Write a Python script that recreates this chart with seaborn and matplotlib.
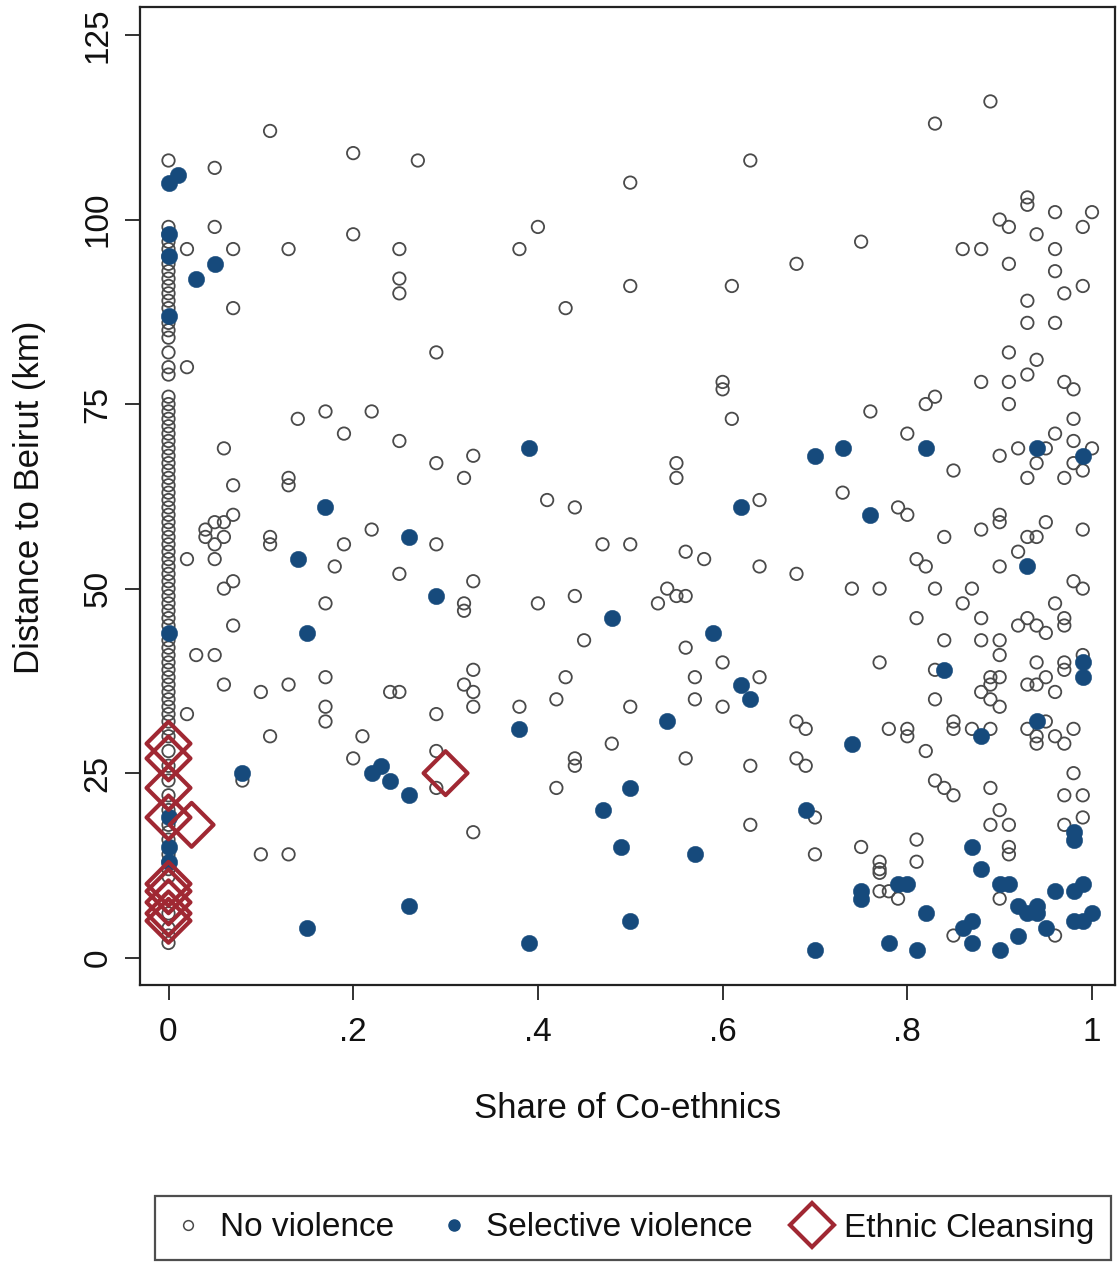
import numpy as np
import pandas as pd
import matplotlib
matplotlib.use("Agg")
import matplotlib.pyplot as plt
from matplotlib.lines import Line2D
import seaborn as sns

# ---------------- data ----------------
# x = share of co-ethnics, y = distance to Beirut (km)

# No violence: column at x = 0
nv_col_y = [108, 99, 98, 97, 96, 95, 94, 93, 92, 91, 90, 89, 88, 86, 85, 84, 82, 80, 79,
            76, 75, 74, 73, 72, 71, 70, 69, 68, 67, 66, 65, 64, 63, 62, 61, 60, 59, 58,
            57, 56, 55, 54, 53, 52, 51, 50, 49, 48, 47, 46, 45, 43, 42, 41, 40, 39, 38,
            37, 36, 35, 34, 33, 32, 31, 30, 28, 26, 25, 24, 22, 21, 20, 18, 17, 16, 14,
            13, 12, 11, 8, 6, 4, 3, 2]

# No violence: remaining villages
nv_x = [0.05, 0.11, 0.20, 0.27, 0.05, 0.02, 0.07, 0.13, 0.20, 0.25, 0.25, 0.25, 0.07, 0.29, 0.02,
        0.14, 0.17, 0.22, 0.19, 0.25, 0.06, 0.29, 0.33, 0.32, 0.07, 0.13, 0.13, 0.07, 0.05, 0.06,
        0.04, 0.04, 0.06, 0.05, 0.11, 0.11, 0.22, 0.19, 0.29, 0.02, 0.05, 0.18, 0.25, 0.07, 0.06,
        0.33, 0.32, 0.32, 0.17, 0.07, 0.03, 0.05, 0.06, 0.10, 0.13, 0.17, 0.17, 0.17, 0.24, 0.25,
        0.29, 0.33, 0.32, 0.33, 0.33, 0.02, 0.11, 0.21, 0.20, 0.29, 0.29, 0.08, 0.33, 0.10, 0.13,
        0.63, 0.50, 0.40, 0.38, 0.50, 0.61, 0.43, 0.60, 0.60, 0.61, 0.55, 0.55, 0.41, 0.44, 0.64,
        0.47, 0.50, 0.56, 0.58, 0.64, 0.40, 0.44, 0.54, 0.55, 0.56, 0.53, 0.45, 0.56, 0.60, 0.43,
        0.42, 0.38, 0.50, 0.57, 0.57, 0.60, 0.64, 0.48, 0.44, 0.44, 0.56, 0.63, 0.42, 0.63,
        0.89, 0.83, 0.75, 0.68, 0.93, 0.93, 0.96, 1.00, 0.90, 0.91, 0.94, 0.99, 0.86, 0.88, 0.96,
        0.91, 0.96, 0.97, 0.99, 0.93, 0.93, 0.96,
        0.91, 0.94, 0.93, 0.88, 0.91, 0.97, 0.98, 0.91, 0.82, 0.83, 0.76, 0.98, 0.96, 0.80, 0.98,
        0.90, 0.92, 0.95, 0.94, 1.00, 0.98, 0.99, 0.93, 0.97, 0.85, 0.73, 0.79, 0.80, 0.90, 0.90,
        0.95, 0.99, 0.88, 0.84, 0.93, 0.94, 0.92, 0.81, 0.82, 0.90, 0.68, 0.98, 0.99, 0.74, 0.77,
        0.83, 0.87, 0.86, 0.96, 0.97, 0.97, 0.81, 0.88, 0.93, 0.92, 0.94, 0.95, 0.84, 0.88, 0.90,
        0.77, 0.83, 0.99, 0.94, 0.97, 0.97, 0.90, 0.89, 0.90, 0.89, 0.88, 0.89, 0.90, 0.83, 0.93,
        0.94, 0.95, 0.96, 0.68, 0.69, 0.68, 0.69, 0.78, 0.80, 0.80, 0.82, 0.85, 0.85, 0.87, 0.89,
        0.93, 0.95, 0.94, 0.94, 0.96, 0.97, 0.98, 0.98, 0.83, 0.84, 0.85, 0.89, 0.97, 0.99, 0.70,
        0.90, 0.89, 0.91, 0.97, 0.99, 0.70, 0.75, 0.81, 0.81, 0.77, 0.77, 0.77, 0.91, 0.91, 0.77,
        0.78, 0.79, 0.90, 0.85, 0.96]
nv_y = [107, 112, 109, 108, 99, 96, 96, 96, 98, 96, 92, 90, 88, 82, 80,
        73, 74, 74, 71, 70, 69, 67, 68, 65, 64, 65, 64, 60, 59, 59,
        58, 57, 57, 56, 57, 56, 58, 56, 56, 54, 54, 53, 52, 51, 50,
        51, 48, 47, 48, 45, 41, 41, 37, 36, 37, 38, 34, 32, 36, 36,
        33, 39, 37, 36, 34, 33, 30, 30, 27, 28, 23, 24, 17, 14, 14,
        108, 105, 99, 96, 91, 91, 88, 78, 77, 73, 67, 65, 62, 61, 62,
        56, 56, 55, 54, 53, 48, 49, 50, 49, 49, 48, 43, 42, 40, 38,
        35, 34, 34, 38, 35, 34, 38, 29, 27, 26, 27, 26, 23, 18,
        116, 113, 97, 94, 103, 102, 101, 101, 100, 99, 98, 99, 96, 96, 96,
        94, 93, 90, 91, 89, 86, 86,
        82, 81, 79, 78, 78, 78, 77, 75, 75, 76, 74, 73, 71, 71, 70,
        68, 69, 69, 67, 69, 67, 66, 65, 65, 66, 63, 61, 60, 60, 59,
        59, 58, 58, 57, 57, 57, 55, 54, 53, 53, 52, 51, 50, 50, 50,
        50, 50, 48, 48, 46, 45, 46, 46, 46, 45, 45, 44, 43, 43, 43,
        40, 39, 41, 40, 40, 39, 41, 38, 38, 37, 36, 35, 34, 35, 37,
        37, 38, 36, 32, 31, 27, 26, 31, 31, 30, 28, 32, 31, 31, 31,
        31, 32, 30, 29, 30, 29, 31, 25, 24, 23, 22, 23, 22, 22, 19,
        20, 18, 18, 18, 19, 14, 15, 16, 13, 13, 12, 11.5, 15, 14, 9,
        9, 8, 8, 3, 3]

# Selective violence
sv_x = [0.00, 0.01, 0.00, 0.00, 0.05, 0.03, 0.00, 0.00, 0.00, 0.00, 0.00,
        0.17, 0.14, 0.26, 0.29, 0.15, 0.08, 0.22, 0.23, 0.24, 0.26, 0.26, 0.15,
        0.39, 0.62, 0.48, 0.59, 0.62, 0.63, 0.38, 0.54, 0.50, 0.47, 0.49, 0.57, 0.50, 0.39,
        0.70, 0.73, 0.82, 0.94, 0.99, 0.76, 0.93, 0.84, 0.99, 0.99, 0.74, 0.88, 0.94, 0.69,
        0.98, 0.98, 0.87, 0.88, 0.75, 0.75, 0.79, 0.80, 0.82, 0.78, 0.81, 0.70, 0.86, 0.87,
        0.87, 0.90, 0.91, 0.90, 0.92, 0.93, 0.94, 0.94, 0.95, 0.92, 0.96, 0.98, 0.99, 0.98,
        0.99, 1.00]
sv_y = [105, 106, 98, 95, 94, 92, 87, 44, 19, 15, 13,
        61, 54, 57, 49, 44, 25, 25, 26, 24, 22, 7, 4,
        69, 61, 46, 44, 37, 35, 31, 32, 23, 20, 15, 14, 5, 2,
        68, 69, 69, 69, 68, 60, 53, 39, 40, 38, 29, 30, 32, 20,
        17, 16, 15, 12, 9, 8, 10, 10, 6, 2, 1, 1, 4, 5,
        2, 10, 10, 1, 7, 6, 7, 6, 4, 3, 9, 9, 10, 5,
        5, 6]

# Ethnic cleansing
ec_x = [0.00, 0.00, 0.00, 0.00, 0.025, 0.30, 0.00, 0.00, 0.00, 0.00, 0.00]
ec_y = [29, 27, 23, 19, 18, 25, 10, 9, 7.5, 6, 5]

x_ticks = [0, 0.2, 0.4, 0.6, 0.8, 1.0]
x_ticklabels = ["0", ".2", ".4", ".6", ".8", "1"]
y_ticks = [0, 25, 50, 75, 100, 125]
y_ticklabels = ["0", "25", "50", "75", "100", "125"]
labels = ["No violence", "Selective violence", "Ethnic Cleansing"]

# ---------------- plotting ----------------
sns.set_theme(style="ticks")
plt.rcParams["font.family"] = ["Liberation Sans", "DejaVu Sans"]

NAVY = "#164a7c"
CRAN = "#a02833"
GRAY = "#4a4a4a"

W, H = 1117, 1266
fig = plt.figure(figsize=(W / 100, H / 100), dpi=100)
fig.patch.set_facecolor("white")
ax = fig.add_axes([140 / W, 1 - 985 / H, 975 / W, (985 - 7) / H])
ax.set_facecolor("white")

nv_df = pd.DataFrame({"x": [0.0] * len(nv_col_y) + nv_x, "y": nv_col_y + nv_y})
sv_df = pd.DataFrame({"x": sv_x, "y": sv_y})
ec_df = pd.DataFrame({"x": ec_x, "y": ec_y})

sns.scatterplot(data=nv_df, x="x", y="y", ax=ax, marker="o", s=80,
                color=GRAY, facecolor="none", edgecolor=GRAY, linewidth=1.3, zorder=2)
sns.scatterplot(data=sv_df, x="x", y="y", ax=ax, marker="o", s=140,
                color=NAVY, edgecolor=NAVY, linewidth=0.3, zorder=3)
sns.scatterplot(data=ec_df, x="x", y="y", ax=ax, marker="D", s=500,
                color=CRAN, facecolor="none", edgecolor=CRAN, linewidth=3.0, zorder=4)

y0 = 957.7
ppk = (957.7 - 35) / 125
ax.set_ylim(-(985 - y0) / ppk, 125 + (35 - 7) / ppk)
x0, ppu = 168.5, 923.5
ax.set_xlim((140 - x0) / ppu, (1115 - x0) / ppu)

ax.set_xticks(x_ticks)
ax.set_xticklabels(x_ticklabels)
ax.set_yticks(y_ticks)
ax.set_yticklabels(y_ticklabels, rotation=90, va="center")
ax.tick_params(axis="both", direction="out", length=11, width=1.3,
               color="#222222", labelsize=24, labelcolor="#111111")
ax.tick_params(axis="x", pad=12)
ax.tick_params(axis="y", pad=8)

for sp in ax.spines.values():
    sp.set_visible(True)
    sp.set_color("#222222")
    sp.set_linewidth(1.6)

ax.set_xlabel("Share of Co-ethnics", fontsize=25, color="#111111")
ax.set_ylabel("Distance to Beirut (km)", fontsize=25, color="#111111")
ax.xaxis.set_label_coords(0.5, (985 - 1108) / 978)
ax.xaxis.label.set_va("center")
ax.yaxis.set_label_coords((30 - 140) / 975, (985 - 497) / 978)
ax.yaxis.label.set_va("center")

handles = [
    Line2D([], [], linestyle="none", marker="o", markersize=7,
           markerfacecolor="none", markeredgecolor=GRAY, markeredgewidth=1.1),
    Line2D([], [], linestyle="none", marker="o", markersize=8,
           markerfacecolor=NAVY, markeredgecolor=NAVY),
    Line2D([], [], linestyle="none", marker="D", markersize=22,
           markerfacecolor="none", markeredgecolor=CRAN, markeredgewidth=3.0),
]
leg = fig.legend(handles, labels, loc="center", bbox_to_anchor=(633 / W, 1 - 1228 / H),
                 ncol=3, fontsize=24, frameon=True, fancybox=False, handlelength=1.0,
                 handletextpad=0.45, columnspacing=1.3, borderpad=0.5, borderaxespad=0)
leg.get_frame().set_edgecolor("#222222")
leg.get_frame().set_linewidth(1.6)
for t in leg.get_texts():
    t.set_color("#111111")

fig.savefig("out.png", dpi=100, facecolor="white")
